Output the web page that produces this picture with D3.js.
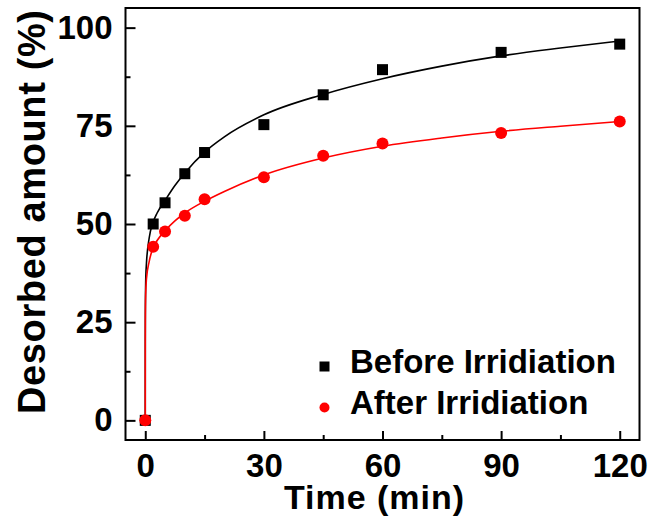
<!DOCTYPE html>
<html>
<head>
<meta charset="utf-8">
<script src="https://cdn.jsdelivr.net/npm/d3@7"></script>
<style>
  body { margin: 0; background: #fff; }
  text { font-family: "Liberation Sans", Arial, sans-serif; font-weight: bold; }
</style>
</head>
<body>
<div id="chart"></div>
<script>
// Données
const temps = [0, 2, 5, 10, 15, 30, 45, 60, 90, 120];
const avant = [0, 50.0, 55.4, 62.8, 68.2, 75.3, 82.9, 89.3, 93.7, 95.8];
const apres = [0, 44.2, 48.1, 52.1, 56.3, 61.9, 67.4, 70.5, 73.2, 76.1];

// Courbes d'ajustement
const tempsFit = [0, 0.005, 0.02, 0.1, 0.3, 1, 2, 3, 5, 7.5, 10, 15, 20, 30, 45, 60, 75, 90, 105, 120];
const avantFit = [0, 20, 27, 35, 40, 46.5, 50.5, 52.8, 56, 59.8, 63, 68.3, 72.2, 77.8, 83, 87, 90.2, 92.8, 94.8, 96.6];
const apresFit = [0, 18, 25, 32, 36, 40.5, 44, 45.8, 48.3, 50.8, 52.8, 55.8, 58.3, 62.5, 66.8, 69.8, 71.9, 73.6, 74.9, 76.1];

// Graduations
const xTicks = [0, 30, 60, 90, 120];
const xMinor = [15, 45, 75, 105];
const yTicks = [0, 25, 50, 75, 100];
const yMinor = [12.5, 37.5, 62.5, 87.5];

const legende = ["Before Irridiation", "After Irridiation"];
const couleurs = ["#000000", "#ff0000"];

// Dimensions
const width = 655, height = 524;
const mLeft = 125.5, mRight = 639.5, mTop = 8, mBottom = 440;

const svg = d3.select("#chart")
  .append("svg")
  .attr("width", width)
  .attr("height", height);

const x = d3.scaleLinear().domain([-5, 125]).range([mLeft, mRight]);
const y = d3.scaleLinear().domain([-5, 105]).range([mBottom, mTop]);

// Axes (graduations vers l'intérieur)
const gx = svg.append("g")
  .attr("transform", "translate(0," + mBottom + ")")
  .call(d3.axisBottom(x).tickValues(xTicks).tickSize(-9).tickPadding(14));
svg.append("g")
  .attr("transform", "translate(0," + mBottom + ")")
  .call(d3.axisBottom(x).tickValues(xMinor).tickSize(-5).tickFormat(""));

const gy = svg.append("g")
  .attr("transform", "translate(" + mLeft + ",0)")
  .call(d3.axisLeft(y).tickValues(yTicks).tickSize(-10).tickPadding(13));
svg.append("g")
  .attr("transform", "translate(" + mLeft + ",0)")
  .call(d3.axisLeft(y).tickValues(yMinor).tickSize(-5).tickFormat(""));

svg.selectAll(".domain").remove();
svg.selectAll(".tick line").attr("stroke", "#000").attr("stroke-width", 2);
gx.selectAll("text").attr("font-size", 33).attr("fill", "#000");
gy.selectAll("text").attr("font-size", 33).attr("fill", "#000");

// Cadre
svg.append("rect")
  .attr("x", mLeft).attr("y", mTop)
  .attr("width", mRight - mLeft).attr("height", mBottom - mTop)
  .attr("fill", "none").attr("stroke", "#000").attr("stroke-width", 2);

// Titres des axes
svg.append("text")
  .attr("x", 374).attr("y", 509)
  .attr("text-anchor", "middle")
  .attr("font-size", 34)
  .attr("textLength", 180)
  .text("Time (min)");

svg.append("text")
  .attr("transform", "translate(45,212) rotate(-90)")
  .attr("text-anchor", "middle")
  .attr("font-size", 38)
  .attr("textLength", 404)
  .text("Desorbed amount (%)");

// Courbes d'ajustement
const line = d3.line()
  .x(d => x(d[0]))
  .y(d => y(d[1]))
  .curve(d3.curveMonotoneX);

[avantFit, apresFit].forEach((serie, i) => {
  svg.append("path")
    .datum(tempsFit.map((t, k) => [t, serie[k]]))
    .attr("d", line)
    .attr("fill", "none")
    .attr("stroke", couleurs[i])
    .attr("stroke-width", 1.6);
});

// Points
svg.selectAll(".carre")
  .data(temps.map((t, k) => [t, avant[k]]))
  .enter().append("rect")
  .attr("x", d => x(d[0]) - 5.5)
  .attr("y", d => y(d[1]) - 5.5)
  .attr("width", 11).attr("height", 11)
  .attr("fill", couleurs[0]);

svg.selectAll(".rond")
  .data(temps.map((t, k) => [t, apres[k]]))
  .enter().append("circle")
  .attr("cx", d => x(d[0]))
  .attr("cy", d => y(d[1]))
  .attr("r", 6)
  .attr("fill", couleurs[1]);

// Légende
const leg = svg.append("g");
leg.append("rect")
  .attr("x", 319.5).attr("y", 361.5).attr("width", 10).attr("height", 10)
  .attr("fill", couleurs[0]);
leg.append("circle")
  .attr("cx", 324.5).attr("cy", 407.5).attr("r", 5)
  .attr("fill", couleurs[1]);
legende.forEach((t, i) => {
  leg.append("text")
    .attr("x", 350).attr("y", 373 + i * 40.5)
    .attr("font-size", 33)
    .text(t);
});
</script>
</body>
</html>
